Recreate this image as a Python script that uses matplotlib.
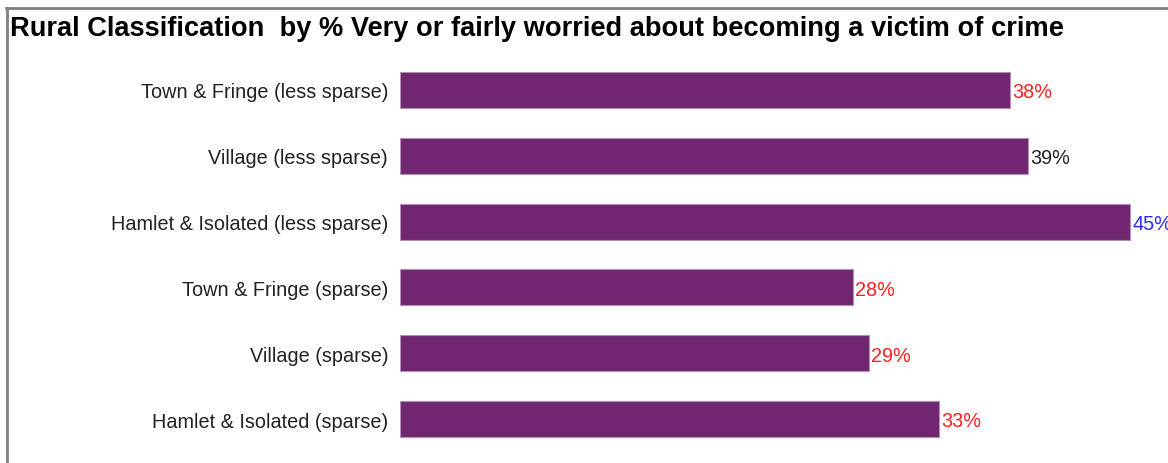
import matplotlib.pyplot as plt
from matplotlib.lines import Line2D

plt.rcParams["font.family"] = ["Liberation Sans", "DejaVu Sans"]

categories = [
    "Town & Fringe (less sparse)",
    "Village (less sparse)",
    "Hamlet & Isolated (less sparse)",
    "Town & Fringe (sparse)",
    "Village (sparse)",
    "Hamlet & Isolated (sparse)",
]
values = [37.6, 38.7, 45.0, 27.9, 28.9, 33.2]
label_colors = ["#ff2020", "#222222", "#2a2aff", "#ff2020", "#ff2020", "#ff2020"]

BAR = "#702671"
W, H = 1168, 464

fig = plt.figure(figsize=(W / 100, H / 100), dpi=100)
# bar rows are ~65.8 px apart, first centred at y=91 px from the top
row = 65.8
top_px = 91 - 0.55 * row
bot_px = 420 + 0.55 * row
ax = fig.add_axes([400 / W, 1 - bot_px / H, 768 / W, (bot_px - top_px) / H])

ypos = list(range(len(categories)))
ax.barh(ypos, values, height=0.55, color=BAR, edgecolor="#b48fb4", linewidth=0.8)
for y, v, c in zip(ypos, values, label_colors):
    ax.text(v + 0.15, y + 0.03, f"{v:.0f}%", va="center", ha="left",
            fontsize=14.3, color=c, clip_on=False)

ax.set_xlim(0, 768 / 16.22)
ax.set_ylim(len(categories) - 0.45, -0.55)
ax.set_yticks(ypos)
ax.set_yticklabels(categories, fontsize=14.3, color="#222222")
ax.tick_params(axis="y", length=0, pad=8.5)
ax.set_xticks([])
for s in ax.spines.values():
    s.set_visible(False)

fig.text(10 / W, 1 - 29 / H, "Rural Classification  by % Very or fairly worried about becoming a victim of crime",
         fontsize=19.6, fontweight="bold", va="center", ha="left")

# grey outer frame along the top and left edges
fig.add_artist(Line2D([7 / W, 7 / W], [0, 1 - 8.5 / H], color="#808080", lw=2,
                      transform=fig.transFigure))
fig.add_artist(Line2D([6 / W, 1], [1 - 8.5 / H, 1 - 8.5 / H], color="#808080", lw=2,
                      transform=fig.transFigure))

fig.savefig("out.png", dpi=100)
